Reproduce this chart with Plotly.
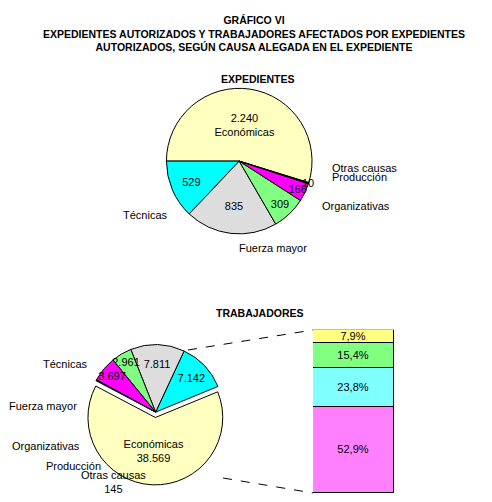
import plotly.graph_objects as go

cats = ["Económicas", "Técnicas", "Fuerza mayor", "Organizativas", "Producción", "Otras causas"]
exp_vals = [2240, 529, 835, 309, 166, 10]
exp_text = ["2.240<br>Económicas", "529", "835", "309", "166", "10"]
trab_cats = ["Técnicas", "Fuerza mayor", "Organizativas", "Producción", "Otras causas", "Económicas"]
trab_vals = [7142, 7811, 2961, 3697, 145, 38569]
trab_text = ["7.142", "7.811", "2.961", "3.697", "", "Económicas<br>38.569"]
sub_cats = ["Aplicación<br>medidas<br>económicas", "Problemas tesorería<br>o financiación", "Restricción<br>demanda", "Otras causas"]
sub_vals = [52.9, 23.8, 15.4, 7.9]
sub_text = ["52,9%", "23,8%", "15,4%", "7,9%"]

fnt = dict(family="Liberation Sans, Arial", size=11, color="black")
fig = go.Figure()
fig.add_trace(go.Pie(labels=cats, values=exp_vals, text=exp_text, textinfo="text",
    textposition="inside", insidetextorientation="horizontal", sort=False,
    direction="counterclockwise", rotation=-90,
    marker=dict(colors=["#ffffc0", "#00ffff", "#dddddd", "#80ff80", "#ff00ff", "#000000"],
                line=dict(color="black", width=1)),
    textfont=fnt, domain=dict(x=[0.30, 0.64], y=[0.55, 0.84]), showlegend=False, hoverinfo="label+value"))
fig.add_trace(go.Pie(labels=trab_cats, values=trab_vals, text=trab_text, textinfo="text",
    textposition="inside", insidetextorientation="horizontal", sort=False,
    direction="counterclockwise", rotation=25, pull=[0, 0, 0, 0, 0, 0.08],
    marker=dict(colors=["#00ffff", "#dddddd", "#80ff80", "#ff00ff", "#008000", "#ffffc0"],
                line=dict(color="black", width=1)),
    textfont=fnt, domain=dict(x=[0.13, 0.47], y=[0.05, 0.34]), showlegend=False, hoverinfo="label+value"))
bcol = ["#ff80ff", "#80ffff", "#80ff80", "#ffff80"]
for c, v, t, col in zip(sub_cats, sub_vals, sub_text, bcol):
    fig.add_trace(go.Bar(x=[0], y=[v], text=[t], textposition="inside", insidetextanchor="middle",
        textfont=fnt, constraintext="none", marker=dict(color=col, line=dict(color="black", width=1)), width=1,
        showlegend=False, name=c.replace("<br>", " "), xaxis="x", yaxis="y"))

cum = 0
ann = []
for c, v in zip(sub_cats, sub_vals):
    ann.append(dict(x=1, y=cum + v / 2, xref="x", yref="y", text=c, showarrow=False,
                    xanchor="left", xshift=8, font=dict(family="Liberation Sans, Arial", size=10, color="black")))
    cum += v

def lab(x, y, t, xa="center"):
    ann.append(dict(x=x / 492, y=1 - y / 502, xref="paper", yref="paper", text=t, showarrow=False,
                    xanchor=xa, font=fnt))

bold = dict(family="Liberation Sans, Arial", size=10.5, color="black")
ann.append(dict(x=0.5, y=1 - 4 / 502, xref="paper", yref="paper", showarrow=False, yanchor="top",
    text="<b>GRÁFICO VI<br>EXPEDIENTES AUTORIZADOS Y TRABAJADORES AFECTADOS POR EXPEDIENTES<br>AUTORIZADOS, SEGÚN CAUSA ALEGADA EN EL EXPEDIENTE</b>",
    font=bold))
ann.append(dict(x=250 / 492, y=1 - 63 / 502, xref="paper", yref="paper", showarrow=False,
    text="<b>EXPEDIENTES</b>", font=bold))
ann.append(dict(x=252 / 492, y=1 - 305 / 502, xref="paper", yref="paper", showarrow=False,
    text="<b>TRABAJADORES</b>", font=bold))
lab(322, 152, "Otras causas", "left")
lab(322, 169, "Producción", "left")
lab(312, 198, "Organizativas", "left")
lab(137, 207, "Técnicas")
lab(265, 240, "Fuerza mayor")
lab(57, 364, "Técnicas")
lab(35, 406, "Fuerza mayor")
lab(38, 446, "Organizativas")
lab(65, 466, "Producción")
lab(105, 489, "Otras causas<br>145")

fig.update_layout(width=492, height=502, margin=dict(l=0, r=0, t=0, b=0),
    paper_bgcolor="white", plot_bgcolor="white", barmode="stack", bargap=0,
    uniformtext=dict(minsize=10, mode="show"),
    annotations=ann,
    xaxis=dict(domain=[0.62, 0.785], range=[-0.5, 0.5], visible=False, fixedrange=True),
    yaxis=dict(domain=[0.034, 0.359], range=[0, 100], visible=False, fixedrange=True),
    shapes=[dict(type="line", xref="paper", yref="paper", x0=180 / 492, y0=1 - 342 / 502,
                 x1=305 / 492, y1=1 - 322 / 502, line=dict(color="black", width=1, dash="dash")),
            dict(type="line", xref="paper", yref="paper", x0=215 / 492, y0=1 - 470 / 502,
                 x1=305 / 492, y1=1 - 485 / 502, line=dict(color="black", width=1, dash="dash"))])
fig.write_html("out.html")
